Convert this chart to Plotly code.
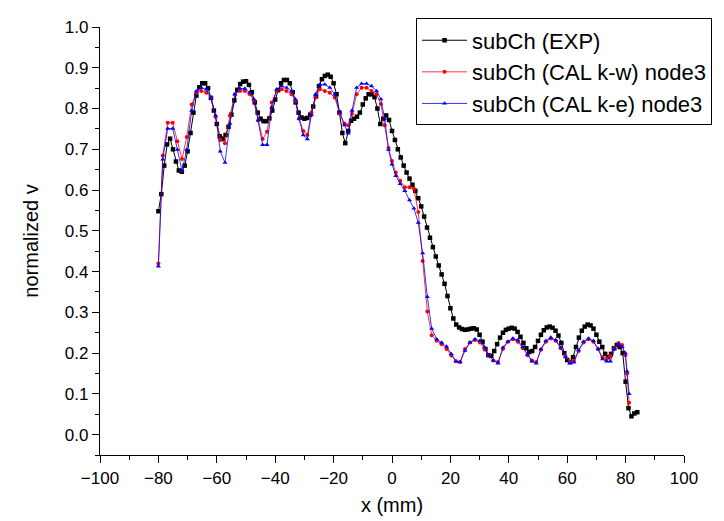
import plotly.graph_objects as go

# measured profile (EXP), 1 mm spacing
x_exp = [-80, -79, -78, -77, -76, -75, -74, -73, -72, -71, -70, -69, -68, -67, -66, -65,
         -64, -63, -62, -61, -60, -59, -58, -57, -56, -55, -54, -53, -52, -51, -50, -49,
         -48, -47, -46, -45, -44, -43, -42, -41, -40, -39, -38, -37, -36, -35, -34, -33,
         -32, -31, -30, -29, -28, -27, -26, -25, -24, -23, -22, -21, -20, -19, -18, -17,
         -16, -15, -14, -13, -12, -11, -10, -9, -8, -7, -6, -5, -4, -3, -2, -1,
         0, 1, 2, 3, 4, 5, 6, 7, 8, 9, 10, 11, 12, 13, 14, 15,
         16, 17, 18, 19, 20, 21, 22, 23, 24, 25, 26, 27, 28, 29, 30, 31,
         32, 33, 34, 35, 36, 37, 38, 39, 40, 41, 42, 43, 44, 45, 46, 47,
         48, 49, 50, 51, 52, 53, 54, 55, 56, 57, 58, 59, 60, 61, 62, 63,
         64, 65, 66, 67, 68, 69, 70, 71, 72, 73, 74, 75, 76, 77, 78, 79,
         80, 81, 82, 83, 84]
v_exp = [0.548, 0.59, 0.66, 0.712, 0.726, 0.70, 0.67, 0.648, 0.645, 0.66, 0.695, 0.74, 0.79, 0.832, 0.852, 0.862,
         0.862, 0.85, 0.826, 0.795, 0.762, 0.732, 0.726, 0.735, 0.755, 0.785, 0.82, 0.846, 0.86, 0.866, 0.867, 0.858,
         0.84, 0.815, 0.79, 0.775, 0.769, 0.769, 0.776, 0.795, 0.822, 0.845, 0.862, 0.87, 0.87, 0.862, 0.84, 0.815,
         0.79, 0.778, 0.775, 0.777, 0.785, 0.805, 0.83, 0.855, 0.872, 0.88, 0.883, 0.878, 0.862, 0.835, 0.79, 0.74,
         0.715, 0.745, 0.77, 0.775, 0.78, 0.79, 0.81, 0.825, 0.835, 0.835, 0.828, 0.80, 0.762, 0.775, 0.783, 0.772,
         0.745, 0.723, 0.70, 0.68, 0.66, 0.643, 0.628, 0.613, 0.598, 0.58, 0.56, 0.535, 0.508, 0.483, 0.46, 0.437,
         0.415, 0.393, 0.37, 0.34, 0.31, 0.285, 0.27, 0.263, 0.259, 0.257, 0.258, 0.26, 0.261, 0.258, 0.245, 0.228,
         0.21, 0.195, 0.193, 0.205, 0.222, 0.238, 0.25, 0.257, 0.26, 0.262, 0.26, 0.252, 0.24, 0.225, 0.212, 0.203,
         0.205, 0.215, 0.23, 0.245, 0.256, 0.263, 0.265, 0.262, 0.255, 0.243, 0.225, 0.20, 0.183, 0.178, 0.19, 0.215,
         0.238, 0.255, 0.265, 0.27, 0.268, 0.26, 0.245, 0.228, 0.215, 0.198, 0.19, 0.198, 0.212, 0.22, 0.215, 0.20,
         0.13, 0.065, 0.045, 0.052, 0.055]

# calculated profiles (node3)
x_cal = [-80.0, -78.5, -76.8, -75.1, -73.5, -71.9, -70.3, -68.6, -67.0, -65.3, -63.6, -62.0, -60.4, -58.8,
         -57.2, -55.5, -53.8, -52.1, -50.4, -48.7, -47.3, -45.8, -44.3, -42.8, -41.2, -39.5, -37.8, -36.1,
         -34.4, -33.1, -31.8, -30.4, -29.0, -27.6, -26.2, -24.7, -23.0, -21.3, -19.6, -17.9, -16.3, -15.0,
         -13.7, -12.1, -10.4, -8.7, -7.0, -5.3, -3.8, -2.5, -1.2, 0.0, 1.3, 2.8, 4.4, 6.0, 7.5, 9.0,
         10.5, 12.1, 13.6, 15.3, 17.0, 18.7, 20.3, 21.9, 23.3, 25.0, 26.7, 28.4, 30.1, 31.7, 33.1, 34.7,
         36.3, 38.0, 39.7, 41.4, 43.1, 44.8, 46.4, 47.9, 49.4, 51.0, 52.7, 54.4, 56.1, 57.8, 59.4, 60.9,
         62.3, 63.9, 65.6, 67.3, 69.0, 70.6, 72.1, 73.5, 74.8, 76.2, 77.6, 78.8, 79.9, 80.5, 81.2]
v_kw = [0.42, 0.685, 0.765, 0.765, 0.72, 0.676, 0.73, 0.81, 0.839, 0.843, 0.839, 0.827, 0.779, 0.723,
        0.715, 0.783, 0.835, 0.843, 0.843, 0.835, 0.819, 0.771, 0.725, 0.743, 0.815, 0.843, 0.847, 0.843,
        0.835, 0.819, 0.775, 0.745, 0.735, 0.79, 0.827, 0.847, 0.843, 0.839, 0.827, 0.787, 0.763, 0.759,
        0.787, 0.835, 0.851, 0.851, 0.843, 0.835, 0.811, 0.759, 0.703, 0.671, 0.643, 0.623, 0.607, 0.607, 0.603, 0.546,
        0.426, 0.302, 0.244, 0.23, 0.222, 0.21, 0.194, 0.18, 0.178, 0.21, 0.226, 0.232, 0.226, 0.21, 0.194, 0.182,
        0.178, 0.21, 0.228, 0.234, 0.228, 0.212, 0.195, 0.182, 0.178, 0.208, 0.228, 0.236, 0.23, 0.212, 0.192, 0.178,
        0.18, 0.205, 0.226, 0.234, 0.228, 0.21, 0.19, 0.186, 0.192, 0.212, 0.225, 0.22, 0.195, 0.15, 0.078]
v_ke = [0.413, 0.675, 0.751, 0.751, 0.699, 0.647, 0.699, 0.795, 0.843, 0.851, 0.847, 0.827, 0.783, 0.695,
        0.667, 0.763, 0.835, 0.849, 0.849, 0.839, 0.823, 0.771, 0.711, 0.711, 0.803, 0.847, 0.855, 0.851,
        0.843, 0.823, 0.775, 0.735, 0.725, 0.785, 0.835, 0.859, 0.859, 0.851, 0.835, 0.791, 0.759, 0.739,
        0.795, 0.851, 0.861, 0.861, 0.855, 0.843, 0.823, 0.775, 0.699, 0.663, 0.635, 0.615, 0.598, 0.575, 0.555, 0.52,
        0.445, 0.338, 0.26, 0.234, 0.226, 0.216, 0.198, 0.18, 0.178, 0.206, 0.226, 0.234, 0.23, 0.214, 0.194, 0.182,
        0.175, 0.214, 0.228, 0.236, 0.232, 0.215, 0.197, 0.18, 0.175, 0.21, 0.23, 0.238, 0.232, 0.214, 0.19, 0.175,
        0.177, 0.207, 0.228, 0.236, 0.23, 0.21, 0.185, 0.18, 0.18, 0.21, 0.222, 0.215, 0.20, 0.155, 0.10]

font = "Arial, Liberation Sans, sans-serif"

fig = go.Figure()
fig.add_trace(go.Scatter(x=x_exp, y=v_exp, mode="lines+markers", name="subCh (EXP)",
                         line=dict(color="black", width=1),
                         marker=dict(symbol="square", size=4.5, color="black")))
fig.add_trace(go.Scatter(x=x_cal, y=v_kw, mode="lines+markers", name="subCh (CAL k-w) node3",
                         line=dict(color="red", width=0.8),
                         marker=dict(symbol="circle", size=4, color="red")))
fig.add_trace(go.Scatter(x=x_cal, y=v_ke, mode="lines+markers", name="subCh (CAL k-e) node3",
                         line=dict(color="blue", width=0.8),
                         marker=dict(symbol="triangle-up", size=4.5, color="blue")))

axis_style = dict(showline=True, linecolor="black", linewidth=1.3, ticks="outside", ticklen=7,
                  tickwidth=1.2, tickcolor="black", showgrid=False, zeroline=False,
                  tickfont=dict(family=font, size=17, color="black"))

# the page body adds an 8 px offset, so margins are trimmed by that amount
fig.update_layout(
    width=724, height=521,
    margin=dict(l=92, r=48, t=10, b=74),
    paper_bgcolor="white", plot_bgcolor="white",
    font=dict(family=font, size=19, color="black"),
    showlegend=True,
    legend=dict(x=1.048, xanchor="right", y=1.02, yanchor="top",
                bgcolor="white", bordercolor="black", borderwidth=1,
                font=dict(family=font, size=22, color="black"),
                itemwidth=45, tracegroupgap=0),
    xaxis=dict(range=[-100, 100], dtick=20, tick0=-100,
               title=dict(text="x (mm)", standoff=11, font=dict(family=font, size=20, color="black")),
               minor=dict(dtick=10, ticks="outside", ticklen=4, tickcolor="black", tickwidth=1.2),
               **axis_style),
    yaxis=dict(range=[-0.05, 1.0], dtick=0.1, tick0=0, tickformat=".1f",
               title=dict(text="normalized v", standoff=20, font=dict(family=font, size=20, color="black")),
               minor=dict(dtick=0.05, tick0=0, ticks="outside", ticklen=4, tickcolor="black", tickwidth=1.2),
               **axis_style),
)

fig.write_html("out.html")
